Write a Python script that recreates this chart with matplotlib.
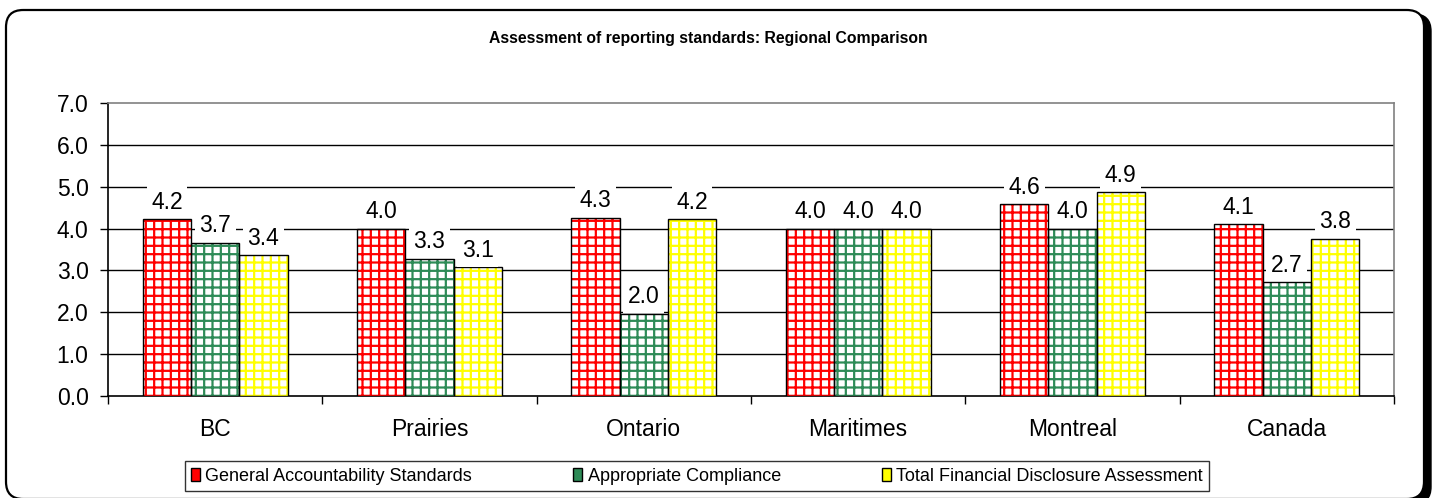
import matplotlib
matplotlib.use("Agg")
import matplotlib.pyplot as plt
from matplotlib.patches import FancyBboxPatch, Patch
import numpy as np

plt.rcParams['font.family'] = ['Liberation Sans', 'DejaVu Sans']
plt.rcParams['hatch.linewidth'] = 1.6

categories = ["BC", "Prairies", "Ontario", "Maritimes", "Montreal", "Canada"]
series_names = ["General Accountability Standards", "Appropriate Compliance",
                "Total Financial Disclosure Assessment"]
general = [4.22, 4.00, 4.26, 4.00, 4.58, 4.10]
compliance = [3.66, 3.28, 1.96, 4.00, 4.00, 2.72]
disclosure = [3.36, 3.07, 4.22, 4.00, 4.87, 3.75]
yticks = [0.0, 1.0, 2.0, 3.0, 4.0, 5.0, 6.0, 7.0]
title = "Assessment of reporting standards: Regional Comparison"

colors = ["#ff0000", "#2e8b57", "#ffff00"]
series = [general, compliance, disclosure]

W, H = 1435, 498
fig = plt.figure(figsize=(W / 100, H / 100), dpi=100)


def fx(px):
    return px / W


def fy(py):
    return 1 - py / H


r = 0.012
shadow = FancyBboxPatch((fx(12), fy(504)), fx(1431) - fx(12), (504 - 14) / H,
                        boxstyle=f"round,pad=0,rounding_size={r}",
                        transform=fig.transFigure, facecolor="black",
                        edgecolor="black", linewidth=1, zorder=-3,
                        mutation_aspect=W / H)
frame = FancyBboxPatch((fx(6), fy(499)), fx(1424) - fx(6), (499 - 10) / H,
                       boxstyle=f"round,pad=0,rounding_size={r}",
                       transform=fig.transFigure, facecolor="white",
                       edgecolor="black", linewidth=1.6, zorder=-2,
                       mutation_aspect=W / H)
fig.patches.extend([shadow, frame])

ax = fig.add_axes([fx(108), fy(396), fx(1394) - fx(108), fy(103) - fy(396)])
ax.set_facecolor("none")

x = np.arange(len(categories))
w = 0.225
offsets = [-w, 0, w]
fs = 16.5
for vals, col, off in zip(series, colors, offsets):
    ax.bar(x + off, vals, w, facecolor="white", edgecolor=col, hatch="++",
           linewidth=0, zorder=3)
    ax.bar(x + off, vals, w, fill=False, edgecolor="black", linewidth=1.0,
           zorder=4)
    for xi, v in zip(x + off, vals):
        ax.annotate(f"{v:.1f}", (xi, v), xytext=(0, 4), textcoords="offset points",
                    ha="center", va="bottom", fontsize=fs, zorder=5,
                    bbox=dict(boxstyle="square,pad=0.2", facecolor="white",
                              edgecolor="none"))

ax.set_xlim(-0.5, len(categories) - 0.5)
ax.set_ylim(0, 7)
ax.set_yticks(yticks)
ax.set_yticklabels([f"{t:.1f}" for t in yticks], fontsize=fs)
for t in yticks[1:-1]:
    ax.axhline(t, color="black", linewidth=1.0, zorder=1)

ax.set_xticks(x)
ax.set_xticklabels(categories, fontsize=fs)
ax.tick_params(axis="x", length=0, pad=16)
ax.set_xticks(np.arange(-0.5, len(categories)), minor=True)
ax.tick_params(axis="x", which="minor", length=6, width=1, color="black")
ax.tick_params(axis="y", length=6, width=1, direction="out", pad=8)

ax.spines["left"].set_color("black")
ax.spines["bottom"].set_color("black")
ax.spines["top"].set_color("#808080")
ax.spines["right"].set_color("#808080")
for s in ax.spines.values():
    s.set_linewidth(1.2)

fig.text(fx(708), fy(38), title, ha="center", va="center", fontsize=11.3,
         fontweight="bold")

handles = [Patch(facecolor=c, edgecolor="black", linewidth=1) for c in colors]
leg = fig.legend(handles, series_names, loc="center",
                 bbox_to_anchor=(fx(697), fy(476)), ncol=3, fontsize=13,
                 frameon=True, fancybox=False, edgecolor="black",
                 handlelength=0.5, handleheight=0.7, handletextpad=0.3,
                 columnspacing=5.6, borderpad=0.35, borderaxespad=0)
leg.get_frame().set_linewidth(1.0)

fig.savefig("out.png", dpi=100)
